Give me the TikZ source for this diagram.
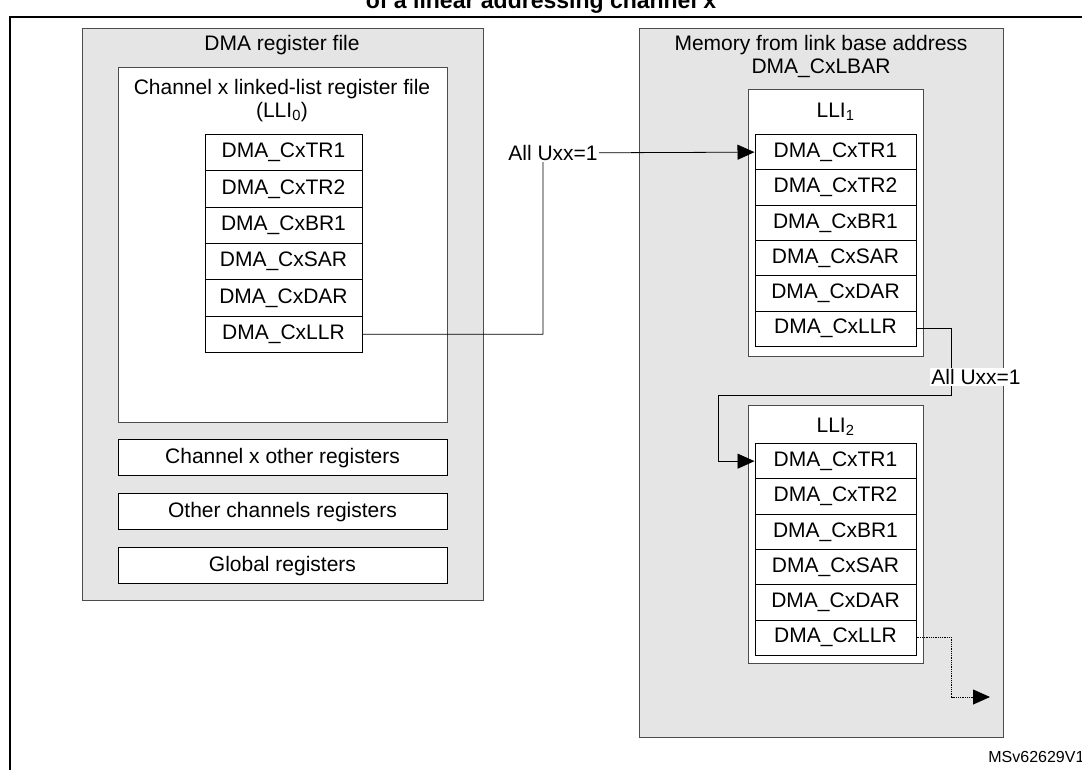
\documentclass[tikz,border=0pt]{standalone}
\usepackage{fontspec}
\setmainfont{Liberation Sans}
\usetikzlibrary{arrows.meta}
\tikzset{
  grp/.style={draw=black!70, fill=black!10, line width=1pt},
  frm/.style={draw=black!70, fill=white, line width=1pt},
  reg/.style={draw=black, fill=white, line width=1pt, minimum width=157pt, minimum height=36.3pt, anchor=north, inner sep=0pt, font=\fontsize{21}{24}\selectfont},
  txt/.style={font=\fontsize{21}{24}\selectfont, inner sep=1pt},
  link/.style={line width=0.8pt, -{Triangle[length=17pt,width=15pt]}},
}
\begin{document}
\begin{tikzpicture}[x=1pt, y=-1pt]
  \useasboundingbox (0,0) rectangle (1082,769);
  \clip (0,0) rectangle (1082,769);
  \node[font=\bfseries\fontsize{23}{26}\selectfont] (title) at (541,3) {of a linear addressing channel x};
  \draw[line width=1.5pt] (10,17) rectangle (1095,775);

  % DMA register file
  \draw[grp] (82,28) rectangle (483,600);
  \node[txt] (regfile) at (282,45) {DMA register file};
  \draw[frm] (118,67) rectangle (447,422);
  \node[txt] (lli0a) at (282,89) {Channel x linked-list register file};
  \node[txt] (lli0b) at (282,112) {(LLI\textsubscript{0})};
  \foreach \t [count=\i] in {DMA\_CxTR1,DMA\_CxTR2,DMA\_CxBR1,DMA\_CxSAR,DMA\_CxDAR,DMA\_CxLLR}
    \node[reg] (a\i) at (283.5,{134+(\i-1)*36.3}) {\t};
  \node[reg, minimum width=329pt] (oth) at (282.5,439) {Channel x other registers};
  \node[reg, minimum width=329pt] (chs) at (282.5,493) {Other channels registers};
  \node[reg, minimum width=329pt] (glb) at (282.5,547) {Global registers};

  % memory
  \draw[grp] (639,28) rectangle (1003,737);
  \node[txt] (mema) at (821,45) {Memory from link base address};
  \node[txt] (memb) at (821,68) {DMA\_CxLBAR};
  \draw[frm] (748,89) rectangle (923,356);
  \node[txt] (lli1) at (835.5,112) {LLI\textsubscript{1}};
  \foreach \t [count=\i] in {DMA\_CxTR1,DMA\_CxTR2,DMA\_CxBR1,DMA\_CxSAR,DMA\_CxDAR,DMA\_CxLLR}
    \node[reg, minimum width=161pt, minimum height=35.3pt] (b\i) at (835.5,{134+(\i-1)*35.3}) {\t};
  \draw[frm] (748,405) rectangle (923,663);
  \node[txt] (lli2) at (835.5,427) {LLI\textsubscript{2}};
  \foreach \t [count=\i] in {DMA\_CxTR1,DMA\_CxTR2,DMA\_CxBR1,DMA\_CxSAR,DMA\_CxDAR,DMA\_CxLLR}
    \node[reg, minimum width=161pt, minimum height=35.3pt] (c\i) at (835.5,{443+(\i-1)*35.3}) {\t};

  % links
  \coordinate (j1) at (543,153);
  \draw[link] (a6.east) -| (j1) -- (b1.west);
  \node[txt, fill=white] (u1) at (553,153) {All Uxx=1};
  \draw[link] (b6.east) -- ++(35,0) |- (718,395) |- (c1.west);
  \node[txt, fill=white] (u2) at (976,377) {All Uxx=1};
  \coordinate (end) at (990,697);
  \draw[link, densely dotted] (c6.east) -- ++(35,0) |- (end);

  \node[font=\fontsize{16}{18}\selectfont, anchor=east] (id) at (1088,757) {MSv62629V1};
\end{tikzpicture}
\end{document}
